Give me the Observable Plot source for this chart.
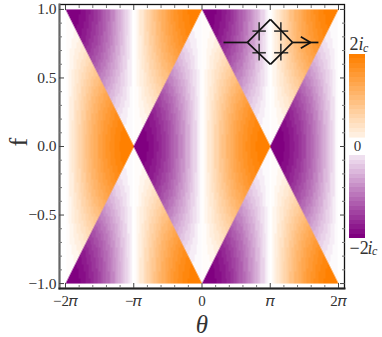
<!DOCTYPE html>
<html><head><meta charset="utf-8">
<style>html,body{margin:0;padding:0;background:#fff}svg{display:block}</style>
<script src="https://cdn.jsdelivr.net/npm/d3@7"></script>
<script src="https://cdn.jsdelivr.net/npm/@observablehq/plot@0.6"></script>
</head><body><script>
const PI = Math.PI;
// Current amplitude profile read along a fold of the map, in 40 equal steps from white to full colour.
const riseProfile = [0,.039,.078,.118,.156,.195,.233,.271,.309,.345,.383,.418,.454,.488,.522,.556,.588,.619,.649,.678,.707,.733,.760,.785,.809,.831,.853,.872,.891,.908,.924,.937,.951,.962,.972,.981,.988,.992,.996,.999,1];
const bandEdges = [-2,-1.9,-1.8,-1.7,-1.6,-1.5,-1.4,-1.3,-1.2,-1.1,-1,-.9,-.8,-.7,-.6,-.5,-.4,-.3,-.2,-.1,0,.1,.2,.3,.4,.5,.6,.7,.8,.9,1,1.1,1.2,1.3,1.4,1.5,1.6,1.7,1.8,1.9,2];
const colorStops = ["#800080","#ffffff","#ff8000"];
const thetaMajor = [-2*PI,-PI,0,PI,2*PI];
const thetaLabels = ["−2𝜋","−𝜋","0","𝜋","2𝜋"];
const thetaMinor = [-1.8,-1.6,-1.4,-1.2,-.8,-.6,-.4,-.2,.2,.4,.6,.8,1.2,1.4,1.6,1.8].map(d=>d*PI);
const fMajor = [-1,-.5,0,.5,1];
const fLabels = ["−1.0","−0.5","0.0","0.5","1.0"];
const fMinor = [-.9,-.8,-.7,-.6,-.4,-.3,-.2,-.1,.1,.2,.3,.4,.6,.7,.8,.9];
// Inset SQUID sketch, in axis units
const circuitWires = [
 [.99,.759,2.09,.759],[2.09,.759,3.15,.927],[3.15,.927,4.17,.759],[4.17,.759,5.36,.759],
 [2.09,.759,3.15,.599],[3.15,.599,4.17,.759],[4.55,.80,4.995,.759],[4.55,.717,4.995,.759]
];
const circuitJunctions = [
 [2.63,.907,2.63,.774],[2.32,.842,2.94,.842],[3.63,.907,3.63,.774],[3.32,.842,3.97,.842],
 [2.63,.75,2.63,.628],[2.32,.684,2.94,.684],[3.63,.75,3.63,.628],[3.32,.684,3.97,.684]
];
const rise = t => riseProfile[Math.max(0,Math.min(40,Math.round(t*40)))];
function current(theta,f){
  const t=Math.abs(theta), a=Math.abs(f), d=Math.abs(t-PI), s=theta<0?-1:1;
  if(d<PI*a) return 2*rise(a)*(t<PI?1:-1)*(-s)*rise(d/PI);
  if(t<PI) return 2*s*rise(t/PI)*rise(1-a);
  return -2*s*rise(2-t/PI)*rise(1-a);
}
const snap = v => { const i=Math.min(19,Math.floor(Math.abs(v)*10)); return Math.sign(v)*(i+.4)/19.4*2; };
const bands = bandEdges.slice(0,-1).map((b,i)=>({lo:b,hi:bandEdges[i+1],v:snap((b+bandEdges[i+1])/2)}));
const barScale = .336, barX1 = 6.79, barX2 = 7.53;
const serif = "'Liberation Serif',serif", ink = "#333";
const seg = {x1:d=>d[0],y1:d=>d[1],x2:d=>d[2],y2:d=>d[3]};
const plot = Plot.plot({
  width:382,height:337,marginLeft:59,marginRight:38,marginTop:4,marginBottom:49,
  style:{background:"#fff",fontFamily:serif,overflow:"visible"},
  x:{domain:[-6.56,6.56],axis:null},
  y:{domain:[-1.036,1.036],axis:null},
  color:{type:"linear",domain:[-2,0,2],range:colorStops,clamp:true},
  marks:[
    Plot.raster({x1:-2*PI,x2:2*PI,y1:-1,y2:1,pixelSize:1,fill:(x,y)=>snap(current(x,y))}),
    Plot.rect(bands,{x1:barX1,x2:barX2,y1:d=>d.lo*barScale,y2:d=>d.hi*barScale,fill:"v",shapeRendering:"crispEdges"}),
    Plot.rect([0],{x1:barX1,x2:barX2,y1:-.066,y2:.058,fill:"#fff"}),
    Plot.frame({stroke:"#111",strokeWidth:1.3}),
    Plot.frame({anchor:"left",stroke:"#666",strokeWidth:2}),
    Plot.frame({anchor:"bottom",stroke:"#222",strokeWidth:2}),
    Plot.axisX({ticks:thetaMajor,anchor:"bottom",tickSize:-5,text:null,stroke:"#444"}),
    Plot.axisX({ticks:thetaMajor,anchor:"top",tickSize:-5,text:null,stroke:"#444"}),
    Plot.axisX({ticks:thetaMinor,anchor:"bottom",tickSize:-3,text:null,stroke:"#777"}),
    Plot.axisX({ticks:thetaMinor,anchor:"top",tickSize:-3,text:null,stroke:"#777"}),
    Plot.axisY({ticks:fMajor,anchor:"left",tickSize:-5,text:null,stroke:"#444"}),
    Plot.axisY({ticks:fMajor,anchor:"right",tickSize:-5,text:null,stroke:"#444"}),
    Plot.axisY({ticks:fMinor,anchor:"left",tickSize:-3,text:null,stroke:"#777"}),
    Plot.axisY({ticks:fMinor,anchor:"right",tickSize:-3,text:null,stroke:"#777"}),
    Plot.text(thetaMajor,{x:d=>d,frameAnchor:"bottom",text:(d,i)=>thetaLabels[i],dy:17,fontSize:15,fill:ink,fontFamily:serif}),
    Plot.text(fMajor,{y:d=>d,frameAnchor:"left",text:(d,i)=>fLabels[i],dx:-3,textAnchor:"end",fontSize:15.5,fill:ink,fontFamily:serif}),
    Plot.text(["f"],{frameAnchor:"left",dx:-41,rotate:-90,fontSize:26,fill:ink,fontFamily:serif}),
    Plot.text(["θ"],{x:()=>0,frameAnchor:"bottom",dy:44,fontSize:25,fontStyle:"italic",fill:ink,fontFamily:serif}),
    Plot.text(["0"],{x:()=>(barX1+barX2)/2,y:()=>0,fontSize:15,fill:ink,fontFamily:serif}),
    Plot.text(["2"],{x:()=>barX1,y:()=>.745,textAnchor:"start",fontSize:18,fill:ink,fontFamily:serif}),
    Plot.text(["i"],{x:()=>barX1,y:()=>.745,dx:9,textAnchor:"start",fontSize:18,fontStyle:"italic",fill:ink,fontFamily:serif}),
    Plot.text(["c"],{x:()=>barX1,y:()=>.72,dx:13.5,textAnchor:"start",fontSize:12,fontStyle:"italic",fill:ink,fontFamily:serif}),
    Plot.text(["−2"],{x:()=>barX1,y:()=>-.74,textAnchor:"start",fontSize:18,fill:ink,fontFamily:serif}),
    Plot.text(["i"],{x:()=>barX1,y:()=>-.74,dx:18,textAnchor:"start",fontSize:18,fontStyle:"italic",fill:ink,fontFamily:serif}),
    Plot.text(["c"],{x:()=>barX1,y:()=>-.765,dx:22.5,textAnchor:"start",fontSize:12,fontStyle:"italic",fill:ink,fontFamily:serif}),
    Plot.link(circuitJunctions,{...seg,stroke:"#333",strokeWidth:1.6}),
    Plot.link(circuitWires,{...seg,stroke:"#111",strokeWidth:1.7})
  ]
});
document.body.appendChild(plot);
</script></body></html>
